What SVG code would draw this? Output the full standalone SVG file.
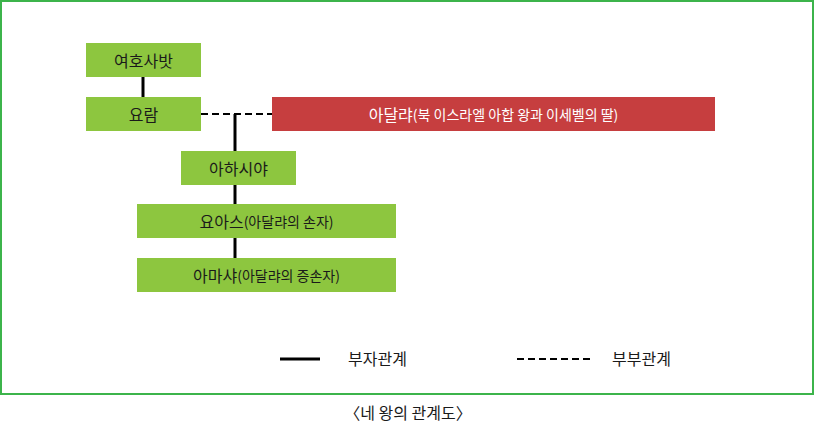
<svg xmlns="http://www.w3.org/2000/svg" width="815" height="424" viewBox="0 0 815 424">
<style>
text{font-family:"Noto Sans CJK KR","Noto Sans",sans-serif;font-size:16px;fill:#1a1a1a;text-anchor:middle;dominant-baseline:central}
.g{fill:#8dc63f}
.r{fill:#c63e3f}
.w{fill:#ffffff}
.s{font-size:14px}
.solid{stroke:#000;stroke-width:3;fill:none}
.dash{stroke:#000;stroke-width:2;stroke-dasharray:7 4;fill:none}
</style>
<rect x="1" y="1" width="812" height="393" fill="#fff" stroke="#3cb44b" stroke-width="2"/>
<g id="connectors">
<line class="solid" x1="143" y1="77" x2="143" y2="97"/>
<line class="dash" x1="201" y1="114" x2="272" y2="114"/>
<line class="solid" x1="235" y1="114" x2="235" y2="151"/>
<line class="solid" x1="235" y1="185" x2="235" y2="204"/>
<line class="solid" x1="235" y1="238" x2="235" y2="258"/>
</g>
<g id="jehoshaphat"><rect class="g" x="86" y="43" width="115" height="34"/><text x="143.5" y="60">여호사밧</text></g>
<g id="joram"><rect class="g" x="86" y="97" width="115" height="34"/><text x="143.5" y="114">요람</text></g>
<g id="athaliah"><rect class="r" x="272" y="97" width="443" height="34"/><text x="493.5" y="114" class="w">아달랴<tspan class="s w">(북 이스라엘 아합 왕과 이세벨의 딸)</tspan></text></g>
<g id="ahaziah"><rect class="g" x="181" y="151" width="115" height="34"/><text x="238.5" y="168">아하시야</text></g>
<g id="joash"><rect class="g" x="137" y="204" width="259" height="34"/><text x="266.5" y="221">요아스<tspan class="s">(아달랴의 손자)</tspan></text></g>
<g id="amaziah"><rect class="g" x="137" y="258" width="259" height="34"/><text x="266.5" y="275">아마샤<tspan class="s">(아달랴의 증손자)</tspan></text></g>
<g id="legend">
<line class="solid" x1="280" y1="359" x2="320" y2="359"/>
<text x="348" y="358" style="text-anchor:start">부자관계</text>
<line class="dash" x1="517" y1="359" x2="591" y2="359"/>
<text x="612" y="358" style="text-anchor:start">부부관계</text>
</g>
<text x="408" y="412">〈네 왕의 관계도〉</text>
</svg>
